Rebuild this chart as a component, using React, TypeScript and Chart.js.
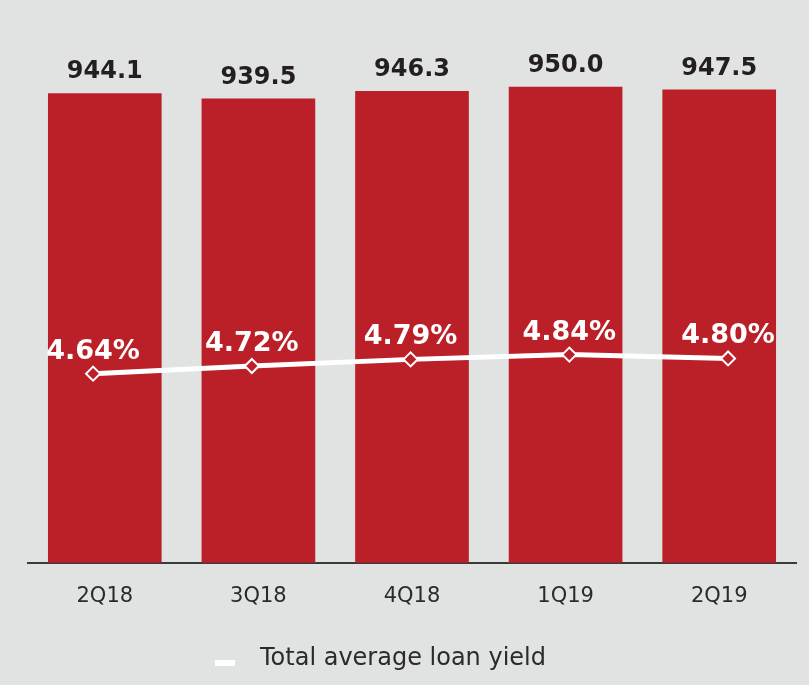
import React, { useEffect, useRef } from "react";
import { Chart, registerables } from "chart.js";

Chart.register(...registerables);

const categories = ["2Q18", "3Q18", "4Q18", "1Q19", "2Q19"];
const loanBalance = [944.1, 939.5, 946.3, 950.0, 947.5];
const loanYield = [4.64, 4.72, 4.79, 4.84, 4.8];
const barLabels = ["944.1", "939.5", "946.3", "950.0", "947.5"];
const yieldLabels = ["4.64%", "4.72%", "4.79%", "4.84%", "4.80%"];
const legendLabel = "Total average loan yield";

const BG = "#e1e2e2";
const RED = "#bb2029";
const TEXT = "#2b2b2b";

const labelPlugin = {
  id: "valueLabels",
  afterDatasetsDraw(chart: any) {
    const ctx = chart.ctx;
    ctx.save();
    ctx.textAlign = "center";
    ctx.textBaseline = "alphabetic";
    ctx.font = "bold 24px 'DejaVu Sans'";
    const barMeta = chart.getDatasetMeta(0);
    barMeta.data.forEach((el: any, i: number) => {
      ctx.fillStyle = "#231f20";
      ctx.fillText(barLabels[i], el.x, el.y - 15);
    });
    ctx.font = "bold 27px 'DejaVu Sans'";
    const lineMeta = chart.getDatasetMeta(1);
    lineMeta.data.forEach((el: any, i: number) => {
      ctx.fillStyle = "#ffffff";
      ctx.fillText(yieldLabels[i], el.x, el.y - 15);
    });
    ctx.restore();
  },
  afterDraw(chart: any) {
    const ctx = chart.ctx;
    const a = chart.chartArea;
    ctx.save();
    const boxX = a.left + 187;
    const baseY = chart.height - 20;
    ctx.fillStyle = "#ffffff";
    ctx.fillRect(boxX, baseY - 5, 20, 6);
    ctx.fillStyle = TEXT;
    ctx.font = "24px 'DejaVu Sans'";
    ctx.textAlign = "left";
    ctx.textBaseline = "alphabetic";
    ctx.fillText(legendLabel, boxX + 45, baseY);
    ctx.restore();
  },
};

export default function App() {
  const ref = useRef<HTMLCanvasElement | null>(null);
  useEffect(() => {
    if (!ref.current) return;
    const chart = new Chart(ref.current, {
      type: "bar",
      data: {
        labels: categories,
        datasets: [
          {
            type: "bar",
            label: "Loans",
            data: loanBalance,
            backgroundColor: RED,
            barPercentage: 0.74,
            categoryPercentage: 1,
            grouped: false,
            xAxisID: "x",
            yAxisID: "y",
            order: 2,
          } as any,
          {
            type: "line",
            label: legendLabel,
            data: loanYield.map((v, i) => ({ x: i, y: v })),
            borderColor: "#ffffff",
            borderWidth: 5,
            pointStyle: "rectRot",
            pointRadius: 7,
            pointBorderWidth: 2,
            pointBorderColor: "#ffffff",
            pointBackgroundColor: RED,
            xAxisID: "x2",
            yAxisID: "y1",
            order: 1,
          } as any,
        ],
      },
      options: {
        animation: false,
        responsive: false,
        maintainAspectRatio: false,
        layout: { padding: { left: 28, right: 13, top: 30, bottom: 55 } },
        scales: {
          x: {
            grid: { display: false, drawTicks: false },
            border: { display: true, color: "#3a3a3a", width: 2 },
            ticks: {
              color: TEXT,
              font: { family: "'DejaVu Sans'", size: 21 },
              padding: 21,
            },
          },
          x2: {
            type: "linear",
            display: false,
            offset: false,
            min: -0.41,
            max: 4.428,
          },
          y: { display: false, min: 530, max: 1000 },
          y1: { display: false, min: 2.65, max: 8.255 },
        },
        plugins: {
          tooltip: { enabled: false },
          legend: { display: false },
        },
      },
      plugins: [labelPlugin],
    });
    return () => chart.destroy();
  }, []);
  return (
    <div
      style={{
        position: "fixed",
        left: 0,
        top: 0,
        width: 809,
        height: 685,
        background: BG,
      }}
    >
      <canvas ref={ref} width={809} height={685} style={{ display: "block" }} />
    </div>
  );
}
